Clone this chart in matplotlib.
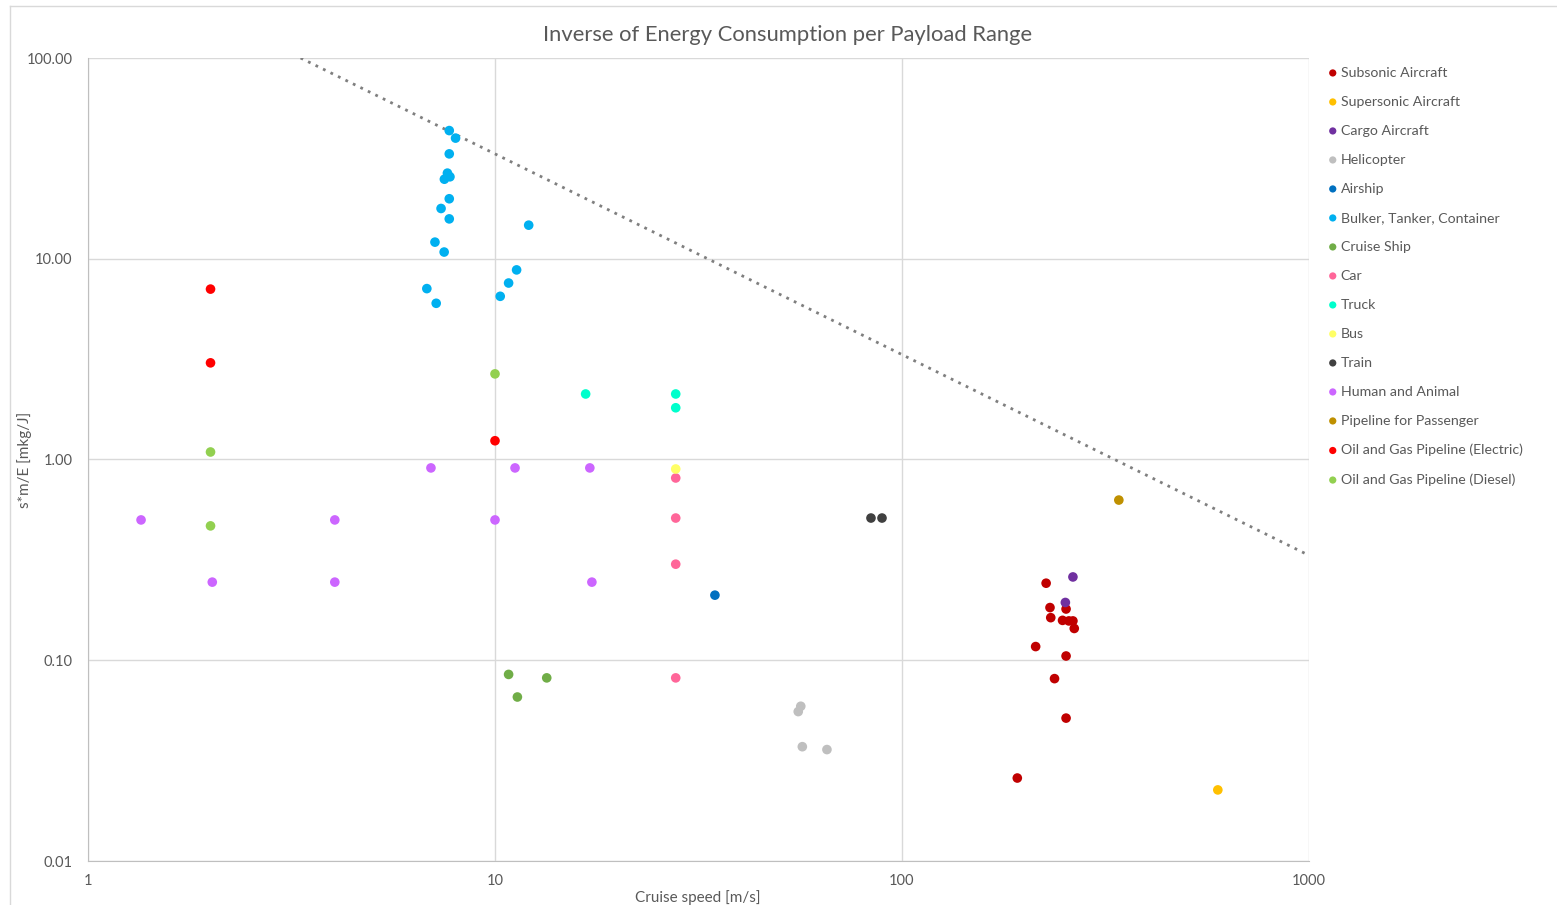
import numpy as np
import matplotlib.pyplot as plt
from matplotlib.lines import Line2D
from matplotlib.ticker import FixedLocator, FixedFormatter, NullLocator

plt.rcParams['font.family'] = ['Lato', 'DejaVu Sans']

# cruise speed [m/s] and s*m/E [mkg/J] for each vehicle class
subsonic_speed = [226, 231, 232, 253, 248, 257, 263, 265, 213, 253, 237, 253, 192]
subsonic_ratio = [0.242, 0.183, 0.163, 0.180, 0.158, 0.157, 0.157, 0.144, 0.117, 0.105, 0.081, 0.0515, 0.0259]
supersonic_speed = [597]
supersonic_ratio = [0.0226]
cargo_speed = [252, 263]
cargo_ratio = [0.194, 0.26]
heli_speed = [56.4, 55.6, 56.9, 65.4]
heli_ratio = [0.059, 0.0555, 0.0371, 0.0359]
airship_speed = [34.7]
airship_ratio = [0.211]
bulker_speed = [7.72, 8.0, 7.72, 7.64, 7.51, 7.75, 7.72, 7.37, 7.72, 12.1, 7.12, 7.5, 11.3, 10.8, 6.8, 10.3, 7.17]
bulker_ratio = [43.5, 39.9, 33.3, 26.7, 24.9, 25.6, 19.9, 17.8, 15.8, 14.7, 12.1, 10.8, 8.8, 7.57, 7.1, 6.5, 6.0]
cruise_speed = [10.8, 13.4, 11.35]
cruise_ratio = [0.085, 0.0817, 0.0656]
car_speed = [27.8, 27.8, 27.8, 27.8]
car_ratio = [0.809, 0.511, 0.301, 0.0817]
truck_speed = [16.7, 27.8, 27.8]
truck_ratio = [2.12, 2.12, 1.81]
bus_speed = [27.8]
bus_ratio = [0.897]
train_speed = [83.9, 89.3]
train_ratio = [0.511, 0.511]
human_speed = [1.35, 2.02, 4.04, 4.04, 6.96, 10.0, 11.2, 17.1, 17.3]
human_ratio = [0.5, 0.245, 0.5, 0.245, 0.908, 0.5, 0.908, 0.908, 0.245]
passenger_pipe_speed = [341]
passenger_pipe_ratio = [0.628]
electric_pipe_speed = [2.0, 2.0, 10.0]
electric_pipe_ratio = [7.06, 3.03, 1.24]
diesel_pipe_speed = [2.0, 2.0, 10.0]
diesel_pipe_ratio = [1.09, 0.467, 2.67]

# limit line s*m/E = c / v
limit_const = 333

series = [
    ('Subsonic Aircraft', subsonic_speed, subsonic_ratio, '#C00000'),
    ('Supersonic Aircraft', supersonic_speed, supersonic_ratio, '#FFC000'),
    ('Cargo Aircraft', cargo_speed, cargo_ratio, '#7030A0'),
    ('Helicopter', heli_speed, heli_ratio, '#BFBFBF'),
    ('Airship', airship_speed, airship_ratio, '#0070C0'),
    ('Bulker, Tanker, Container', bulker_speed, bulker_ratio, '#00B0F0'),
    ('Cruise Ship', cruise_speed, cruise_ratio, '#70AD47'),
    ('Car', car_speed, car_ratio, '#FF6699'),
    ('Truck', truck_speed, truck_ratio, '#00FFCC'),
    ('Bus', bus_speed, bus_ratio, '#FFFF66'),
    ('Train', train_speed, train_ratio, '#404040'),
    ('Human and Animal', human_speed, human_ratio, '#CC66FF'),
    ('Pipeline for Passenger', passenger_pipe_speed, passenger_pipe_ratio, '#BF9000'),
    ('Oil and Gas Pipeline (Electric)', electric_pipe_speed, electric_pipe_ratio, '#FF0000'),
    ('Oil and Gas Pipeline (Diesel)', diesel_pipe_speed, diesel_pipe_ratio, '#92D050'),
]

W, H = 1557, 905
fig = plt.figure(figsize=(W / 100, H / 100), dpi=100)
ax = fig.add_axes([88 / W, 44 / H, 1221 / W, 803 / H])

grey = '#595959'
for name, xs, ys, col in series:
    ax.scatter(xs, ys, s=48, color=col, edgecolors='none', label=name, zorder=3)

vx = np.logspace(0, 3, 200)
ax.plot(vx, limit_const / vx, color='#7F7F7F', linestyle=(0, (1, 2)), linewidth=2, zorder=2)

ax.set_xscale('log')
ax.set_yscale('log')
ax.set_xlim(1, 1000)
ax.set_ylim(0.01, 100)

xt = [1, 10, 100, 1000]
yt = [0.01, 0.1, 1, 10, 100]
ax.xaxis.set_major_locator(FixedLocator(xt))
ax.xaxis.set_major_formatter(FixedFormatter([str(v) for v in xt]))
ax.yaxis.set_major_locator(FixedLocator(yt))
ax.yaxis.set_major_formatter(FixedFormatter(['%.2f' % v for v in yt]))
ax.xaxis.set_minor_locator(NullLocator())
ax.yaxis.set_minor_locator(NullLocator())
ax.tick_params(length=0, labelsize=10.5, labelcolor=grey)
ax.tick_params(axis='y', pad=11)
ax.tick_params(axis='x', pad=9)

ax.grid(True, color='#D9D9D9', linewidth=1, zorder=0)
ax.set_axisbelow(True)
for side in ['top', 'right']:
    ax.spines[side].set_visible(False)
for side in ['left', 'bottom']:
    ax.spines[side].set_color('#BFBFBF')

# title and axis titles placed in figure pixels
fig.text(788 / W, 1 - 35 / H, 'Inverse of Energy Consumption per Payload Range',
         fontsize=15.8, color=grey, ha='center', va='center')
fig.text(698 / W, 1 - 898 / H, 'Cruise speed [m/s]', fontsize=11, color=grey,
         ha='center', va='center')
fig.text(25 / W, 1 - 460 / H, 's*m/E [mkg/J]', fontsize=11, color=grey,
         ha='center', va='center', rotation=90)

fig.legend(loc='upper left', bbox_to_anchor=(1320 / W, 1 - 61 / H), frameon=False,
           fontsize=10.2, labelcolor=grey, markerscale=0.75, handletextpad=0.05,
           handlelength=1.0, labelspacing=1.2, borderaxespad=0)

# chart frame: only its top and left edges fall inside the image
frame = '#D9D9D9'
fig.add_artist(Line2D([10 / W, 1.0], [1 - 6.5 / H, 1 - 6.5 / H], transform=fig.transFigure,
                      color=frame, linewidth=1))
fig.add_artist(Line2D([10 / W, 10 / W], [0.0, 1 - 6.5 / H], transform=fig.transFigure,
                      color=frame, linewidth=1))

fig.savefig('out.png', dpi=100)
